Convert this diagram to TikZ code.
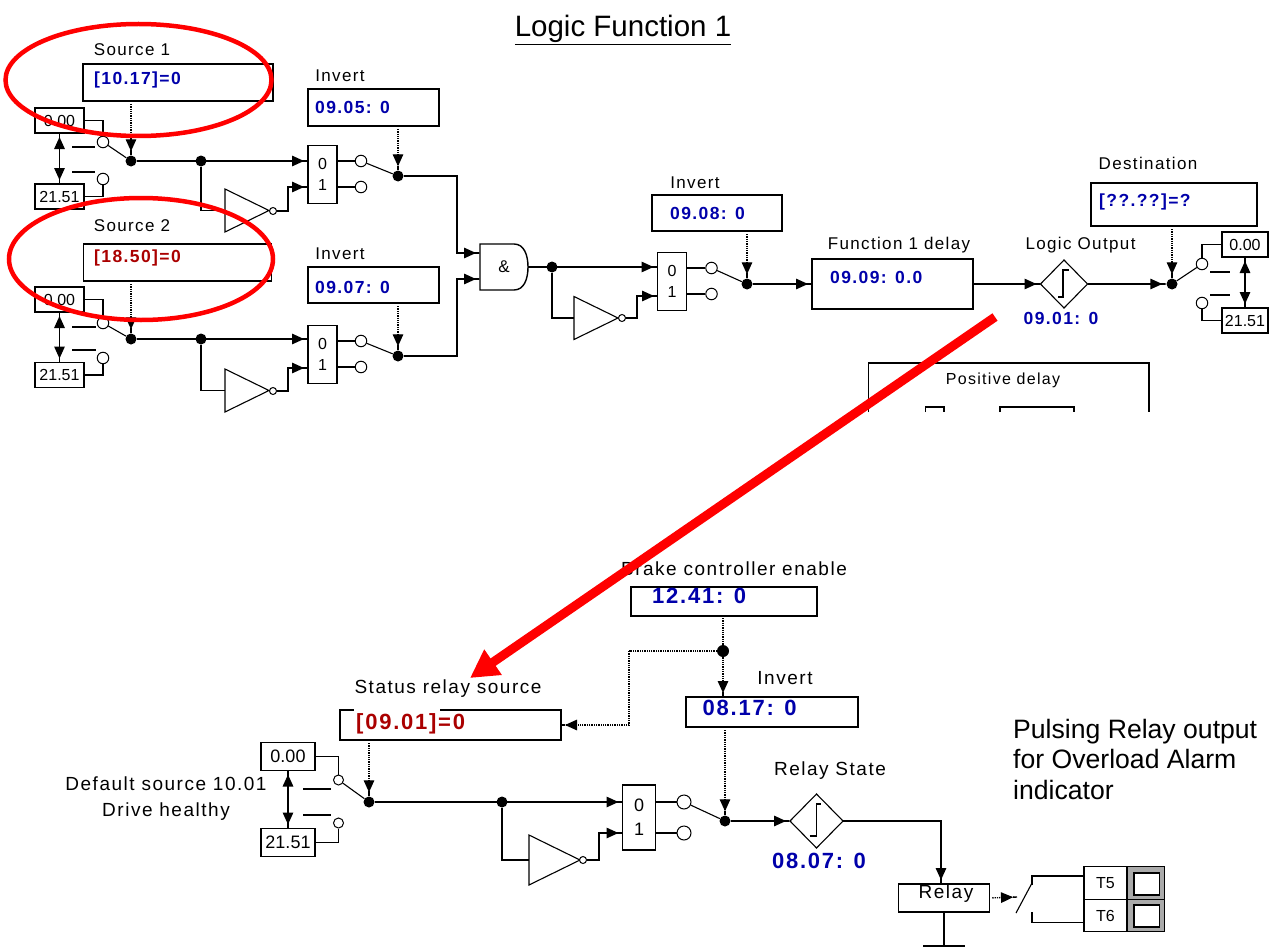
\documentclass[tikz,border=0pt]{standalone}
\usepackage{fontspec}
\usepackage{xcolor}
\setmainfont{Liberation Sans}
\newfontfamily\spacedfont[LetterSpace=8]{Liberation Sans}
\definecolor{valblue}{RGB}{0,0,170}
\definecolor{valred}{RGB}{170,0,0}
\definecolor{panelgray}{RGB}{170,170,170}
\usetikzlibrary{positioning,arrows.meta,shapes.geometric}

\begin{document}
\begin{tikzpicture}[
  x=1pt, y=-1pt,
  stub/.tip={Triangle[length=12pt,width=10.5pt]Square[length=4pt,width=1.4pt]},
  wire/.style={line width=1.4pt},
  thinwire/.style={line width=1.1pt},
  arr/.style={-stub, wire},
  dbl/.style={stub-stub, wire},
  dotarr/.style={-stub, line width=1.3pt, densely dotted, shorten <=3pt},
  dotwire/.style={line width=1.3pt, densely dotted},
  redarr/.style={-{Triangle[length=28pt,width=29pt]}, red, line width=9pt},
  redring/.style={draw=red, line width=4.5pt, ellipse, inner sep=0pt, outer sep=0pt},
  box/.style={draw, line width=1.2pt, inner sep=0pt, outer sep=0pt},
  numbox/.style={box, minimum width=49, minimum height=25, font=\fontsize{16}{18}\selectfont},
  bignumbox/.style={box, minimum width=54, minimum height=28, font=\fontsize{18}{20}\selectfont},
  muxbox/.style={box, minimum width=29, minimum height=58, align=center, font=\fontsize{16}{21}\selectfont},
  bigmuxbox/.style={box, minimum width=33, minimum height=65, align=center, font=\fontsize{18}{24}\selectfont},
  cir/.style={circle, draw, fill=white, line width=1pt, inner sep=0pt, minimum size=11.5},
  bub/.style={circle, draw, fill=white, line width=1pt, inner sep=0pt, minimum size=7},
  jdot/.style={circle, fill=black, inner sep=0pt, minimum size=11},
  notgate/.style={isosceles triangle, isosceles triangle stretches, draw, thinwire, anchor=west, inner sep=0pt, outer sep=0pt, minimum width=43, minimum height=44},
  integ/.style={diamond, draw, thinwire, inner sep=0pt, outer sep=0pt, aspect=1},
  lbl/.style={inner sep=0pt, font=\fontsize{17}{20}\selectfont\spacedfont},
  biglbl/.style={inner sep=0pt, font=\fontsize{19}{22}\selectfont\spacedfont},
  val/.style={anchor=west, inner sep=0pt, text=valblue, font=\fontsize{17.5}{20}\selectfont\spacedfont\bfseries},
  bigval/.style={val, font=\fontsize{22}{24}\selectfont\spacedfont\bfseries}
]
\useasboundingbox (0,0) rectangle (1279,947);

\node[inner sep=0pt, font=\fontsize{29.5}{32}\selectfont] (title) at (623,30) {\underline{Logic Function 1}};

\node[lbl] (srcAlbl) at (132,50) {Source 1};
\node[box, minimum width=190, minimum height=37] (srcA) at (178,82.5) {};
\node[val] (srcAval) at (94,80) {[10.17]=0};
\node[numbox] (zeroA) at (59.5,120.5) {0.00};
\node[numbox] (oneA) at (59.5,196.5) {21.51};
\node[cir] (swAa) at (103,142) {};
\node[cir] (swAb) at (103,179) {};
\node[jdot] (dotA) at (131,161) {};
\draw[wire] (zeroA.east) -| (swAa.north);
\draw[wire] (oneA.east) -| (swAb.south);
\draw[dbl] (zeroA.south) -- (oneA.north);
\draw[wire] (72,147) -- (95,147);
\draw[wire] (72,172) -- (95,172);
\draw[thinwire] (swAa) -- (dotA);
\draw[dotarr] (srcA.south -| dotA) -- (dotA);

\node[jdot] (brA) at (201,161) {};
\node[muxbox] (muxA) at (322.5,174.5) {0\\1};
\node[notgate] (notA) at (225,210.5) {};
\node[bub] (bubA) at (273,211) {};
\coordinate (inAb) at (308,187);
\draw[arr] (dotA) -- (muxA.west |- dotA);
\draw[wire] (brA) |- (notA.west);
\draw[arr] (bubA) -- ++(15,0) |- (inAb);
\node[cir] (outAa) at (361,161) {};
\node[cir] (outAb) at (361,187) {};
\draw[wire] (muxA.east |- outAa) -- (outAa);
\draw[wire] (muxA.east |- outAb) -- (outAb);
\node[lbl] (invAlbl) at (340,76) {Invert};
\node[box, minimum width=131, minimum height=37] (invA) at (373.5,107.5) {};
\node[val] (invAval) at (315,107) {09.05: 0};
\node[jdot] (dotAi) at (398,176) {};
\draw[thinwire] (outAa) -- (dotAi);
\draw[dotarr] (invA.south -| dotAi) -- (dotAi);

\node[lbl] (srcBlbl) at (132,226) {Source 2};
\node[box, minimum width=188, minimum height=37] (srcB) at (177.5,262.5) {};
\node[val, text=valred] (srcBval) at (94,258) {[18.50]=0};
\node[numbox] (zeroB) at (59.5,299.5) {0.00};
\node[numbox] (oneB) at (59.5,375) {21.51};
\node[cir] (swBa) at (103,323) {};
\node[cir] (swBb) at (103,358) {};
\node[jdot] (dotB) at (131,339) {};
\draw[wire] (zeroB.east) -| (swBa.north);
\draw[wire] (oneB.east) -| (swBb.south);
\draw[dbl] (zeroB.south) -- (oneB.north);
\draw[wire] (72,327) -- (96,327);
\draw[wire] (72,350) -- (96,350);
\draw[thinwire] (swBa) -- (dotB);
\draw[dotarr] (srcB.south -| dotB) -- (dotB);

\node[jdot] (brB) at (201,339) {};
\node[muxbox] (muxB) at (322.5,354.5) {0\\1};
\node[notgate] (notB) at (225,390.5) {};
\node[bub] (bubB) at (273,391) {};
\coordinate (inBb) at (308,368);
\draw[arr] (dotB) -- (muxB.west |- dotB);
\draw[wire] (brB) |- (notB.west);
\draw[arr] (bubB) -- ++(15,0) |- (inBb);
\node[cir] (outBa) at (361,341) {};
\node[cir] (outBb) at (361,367) {};
\draw[wire] (muxB.east |- outBa) -- (outBa);
\draw[wire] (muxB.east |- outBb) -- (outBb);
\node[lbl] (invBlbl) at (340,254) {Invert};
\node[box, minimum width=131, minimum height=36] (invB) at (373.5,285) {};
\node[val] (invBval) at (315,287) {09.07: 0};
\node[jdot] (dotBi) at (398,356) {};
\draw[thinwire] (outBa) -- (dotBi);
\draw[dotarr] (invB.south -| dotBi) -- (dotBi);

\node[minimum width=48, minimum height=46, inner sep=0pt, outer sep=0pt, font=\fontsize{17}{20}\selectfont] (andA) at (504,267) {\&\hspace{8pt}};
\draw[wire] (andA.north west) -- ([xshift=34pt]andA.north west) .. controls +(10,0) and +(0,-12) .. (andA.east) .. controls +(0,12) and +(10,0) .. ([xshift=34pt]andA.south west) -- (andA.south west) -- cycle;
\coordinate (andAa) at (480,253);
\coordinate (andAb) at (480,279);
\draw[arr] (dotAi) -- ++(59,0) |- (andAa);
\draw[arr] (dotBi) -- ++(59,0) |- (andAb);

\node[jdot] (brC) at (552,267) {};
\node[muxbox] (muxC) at (672,281.5) {0\\1};
\node[notgate] (notC) at (574,318) {};
\node[bub] (bubC) at (622,318) {};
\coordinate (inCb) at (658,296);
\draw[arr] (andA.east) -- (muxC.west |- brC);
\draw[wire] (brC) |- (notC.west);
\draw[arr] (bubC) -- ++(15,0) |- (inCb);
\node[cir] (outCa) at (711.5,268) {};
\node[cir] (outCb) at (711.5,294) {};
\draw[wire] (muxC.east |- outCa) -- (outCa);
\draw[wire] (muxC.east |- outCb) -- (outCb);
\node[lbl] (invClbl) at (695,183) {Invert};
\node[box, minimum width=130, minimum height=36] (invC) at (717,213) {};
\node[val] (invCval) at (670,213) {09.08: 0};
\node[jdot] (dotC) at (747,284) {};
\draw[thinwire] (outCa) -- (dotC);
\draw[dotarr] (invC.south -| dotC) -- (dotC);

\node[lbl] (dlylbl) at (899,245) {Function 1 delay};
\node[box, minimum width=161, minimum height=50] (dly) at (892.5,284) {};
\node[val] (dlyval) at (830,277) {09.09: 0.0};
\draw[arr] (dotC) -- (dly.west);
\node[lbl] (outlbl) at (1080.5,245) {Logic Output};
\node[integ, minimum width=47, minimum height=48] (dgA) at (1064,284) {};
\draw[thinwire] (dgA) ++(-6,13) -- ++(5,0) -- ++(0,-27) -- ++(6,0);
\node[val, anchor=center] (dgAval) at (1061,318) {09.01: 0};
\draw[arr] (dly.east) -- (dgA.west);

\node[lbl] (dstlbl) at (1148,163) {Destination};
\node[box, minimum width=166, minimum height=43] (dst) at (1174,204.5) {};
\node[val] (dstval) at (1099,202) {[??.??]=?};
\node[jdot] (dotD) at (1172,284) {};
\node[numbox, minimum width=46] (zeroD) at (1245,244.5) {0.00};
\node[numbox, minimum width=46] (oneD) at (1245,320.5) {21.51};
\node[cir] (swDa) at (1202,264) {};
\node[cir] (swDb) at (1202,303) {};
\draw[arr] (dgA.east) -- (dotD);
\draw[wire] (zeroD.west) -| (swDa.north);
\draw[wire] (oneD.west) -| (swDb.south);
\draw[dbl] (zeroD.south) -- (oneD.north);
\draw[wire] (1210,272) -- (1230,272);
\draw[wire] (1210,295) -- (1230,295);
\draw[thinwire] (swDa) -- (dotD);
\draw[dotarr] (dst.south -| dotD) -- (dotD);

\node[lbl, font=\fontsize{16}{20}\selectfont\spacedfont] (poslbl) at (1003,380) {Positive delay};
\draw[wire] (868.5,412) |- (1149,363) -- (1149,412);
\draw[wire] (925.5,412) |- (944,407) -- (944,412);
\draw[wire] (1000,412) |- (1074,407) -- (1074,412);

\node[biglbl] (rsrclbl) at (448,689) {Status relay source};
\node[box, minimum width=221, minimum height=30] (rsrc) at (450.5,725) {};
\fill[white] (354,708.5) rectangle (440,711.5);
\node[bigval, text=valred] (rsrcval) at (356,724) {[09.01]=0};
\node[bignumbox] (zeroE) at (288,756.5) {0.00};
\node[bignumbox] (oneE) at (288,842.5) {21.51};
\node[biglbl] (deflbl) at (166,784) {Default source 10.01};
\node[biglbl] (drvlbl) at (166,812) {Drive healthy};
\node[cir, minimum size=10] (swEa) at (338.5,780) {};
\node[cir, minimum size=10] (swEb) at (338.5,823) {};
\node[jdot] (dotE) at (369,802) {};
\draw[wire] (zeroE.east) -| (swEa.north);
\draw[wire] (oneE.east) -| (swEb.south);
\draw[dbl] (zeroE.south) -- (oneE.north);
\draw[wire] (303,789) -- (331,789);
\draw[wire] (303,815) -- (331,815);
\draw[thinwire] (swEa) -- (dotE);
\draw[dotarr] (rsrc.south -| dotE) -- (dotE);

\node[jdot] (brE) at (502,802) {};
\node[bigmuxbox] (muxE) at (639,817.5) {0\\1};
\node[notgate, minimum width=50, minimum height=51] (notE) at (529,860) {};
\node[bub] (bubE) at (583,860) {};
\coordinate (inEb) at (622.5,833);
\draw[arr] (dotE) -- (muxE.west |- dotE);
\draw[wire] (brE) |- (notE.west);
\draw[arr] (bubE) -- ++(16,0) |- (inEb);
\node[cir, minimum size=14] (outEa) at (684,802) {};
\node[cir, minimum size=14] (outEb) at (684,833) {};
\draw[wire] (muxE.east |- outEa) -- (outEa);
\draw[wire] (muxE.east |- outEb) -- (outEb);
\node[biglbl] (brklbl) at (734,569) {Brake controller enable};
\node[box, minimum width=186, minimum height=29] (brk) at (724,601.5) {};
\node[bigval] (brkval) at (652,596) {12.41: 0};
\node[jdot, minimum size=12] (brDot) at (723,651) {};
\coordinate (brCorner) at (629,651);
\draw[dotwire, shorten <=2pt] (brk.south -| brDot) -- (brDot);
\draw[dotwire] (brDot) -- (brCorner);
\draw[dotarr, shorten <=0pt] (brCorner) |- (rsrc.east);
\node[biglbl] (invElbl) at (785,678) {Invert};
\node[box, minimum width=172, minimum height=30] (invE) at (772,712) {};
\node[bigval] (invEval) at (702.5,708) {08.17: 0};
\draw[dotarr, shorten <=0pt] (brDot) -- (invE.north -| brDot);
\node[jdot] (dotF) at (725,821) {};
\draw[thinwire] (outEa) -- (dotF);
\draw[dotarr] (invE.south -| dotF) -- (dotF);

\node[biglbl] (statlbl) at (830,771) {Relay State};
\node[integ, minimum width=53, minimum height=54] (dgB) at (816.5,821) {};
\draw[thinwire] (dgB) ++(-7,15) -- ++(7,0) -- ++(0,-32) -- ++(4,0);
\node[bigval, anchor=center] (dgBval) at (819,861) {08.07: 0};
\draw[arr] (dotF) -- (dgB.west);

\node[box, minimum width=90.5, minimum height=28] (relay) at (944,898) {};
\node[biglbl] (relaylbl) at (946,894) {Relay};
\draw[arr] (dgB.east) -| ([xshift=-3pt]relay.north);
\coordinate (gnd) at (944,946);
\draw[wire] (relay.south) -- (gnd);
\draw[wire] (923,946) -- (965,946);
\node[box, minimum width=43, minimum height=32.5, font=\fontsize{16}{18}\selectfont] (tfive) at (1105.5,883) {T5\hspace{6pt}};
\node[box, minimum width=43, minimum height=32.5, font=\fontsize{16}{18}\selectfont] (tsix) at (1105.5,915.5) {T6\hspace{6pt}};
\node[box, thinwire, fill=panelgray, minimum width=37.5, minimum height=32.5] (pfive) at (1145.75,883) {};
\node[box, thinwire, fill=panelgray, minimum width=37.5, minimum height=32.5] (psix) at (1145.75,915.5) {};
\node[box, fill=white, minimum width=25.5, minimum height=22] (qfive) at (1146.75,884) {};
\node[box, fill=white, minimum width=25.5, minimum height=22] (qsix) at (1146.75,916) {};
\coordinate (ctA) at (1032,885);
\coordinate (ctB) at (1032,912);
\coordinate (ctC) at (1017,897);
\draw[wire] (ctA) |- ([yshift=7pt]tfive.west);
\draw[wire] (ctB) |- ([yshift=-7pt]tsix.west);
\draw[thinwire] (1016,913) -- (1032,883);
\draw[dotarr] (relay.east) -- (ctC);

\node[anchor=north west, inner sep=0pt, align=left, font=\fontsize{26.6}{30.5}\selectfont] (note) at (1013,719) {Pulsing Relay output\\for Overload Alarm\\indicator};

\node[redring, minimum width=266, minimum height=112] (ringA) at (138.5,80) {};
\node[redring, minimum width=264, minimum height=122] (ringB) at (141,259) {};
\coordinate (redfrom) at (995,317);
\coordinate (redto) at (470,678);
\draw[redarr] (redfrom) -- (redto);

\end{tikzpicture}
\end{document}
